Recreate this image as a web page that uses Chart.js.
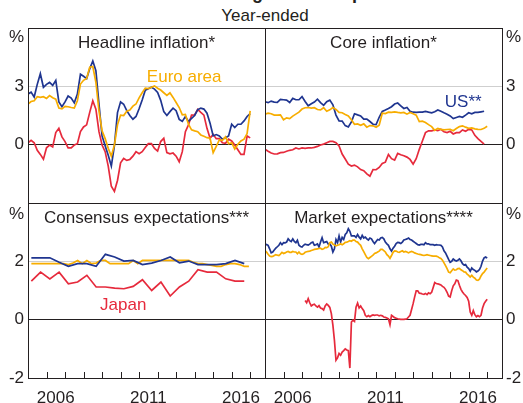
<!DOCTYPE html>
<html>
<head>
<meta charset="utf-8">
<script src="https://cdn.jsdelivr.net/npm/chart.js@4/dist/chart.umd.min.js"></script>
<style>
  html, body { margin: 0; padding: 0; background: #fff; }
  body { width: 523px; height: 403px; position: relative; overflow: hidden;
         font-family: "Liberation Sans", Arial, sans-serif; color: #231f20; }
  canvas { position: absolute; left: 0; top: 0; }
  .txt { position: absolute; white-space: nowrap; }
</style>
</head>
<body>
<div class="txt" style="left:107px;top:-16px;font-weight:bold;font-size:18px;line-height:18px;">Inflation and Longer-term Expectations</div>
<div class="txt" style="left:165px;width:200px;text-align:center;top:7px;font-size:17px;line-height:17px;">Year-ended</div>
<canvas id="headline" width="523" height="403"></canvas>
<canvas id="core" width="523" height="403"></canvas>
<canvas id="consensus" width="523" height="403"></canvas>
<canvas id="market" width="523" height="403"></canvas>
<script>
// ─── Data ─────────────────────────────────────────────────────────────────────

// Headline / core inflation, every second month from Jan 2005 (%)
const inflationStart = 2005;
const usHeadline = [
  2.60, 2.70, 2.45, 3.10, 3.65, 2.95, 3.10, 3.20, 3.05, 3.30,
  2.20, 1.95, 2.20, 2.50, 2.40, 2.15, 2.60, 3.62, 3.52, 3.40,
  3.90, 4.30, 3.80, 2.09, 0.45, -0.05, -0.55, -1.10, -0.05, 1.65,
  2.20, 2.08, 1.75, 1.50, 1.31, 1.45, 1.85, 2.30, 2.80, 2.88,
  2.95, 2.86, 2.69, 2.28, 1.70, 1.50, 1.70, 1.88, 1.75, 1.30,
  1.20, 1.45, 1.20, 1.35, 1.50, 1.80, 1.88, 1.83, 1.62, 1.10,
  0.45, 0.52, 0.45, 0.28, 0.36, 0.45, 1.05, 0.88, 1.05, 1.05,
  1.22, 1.45, 1.60
];
const euroHeadline = [
  2.09, 2.22, 2.26, 2.47, 2.43, 2.47, 2.38, 2.52, 2.41, 2.34,
  1.88, 1.84, 1.97, 1.95, 1.91, 1.88, 2.26, 3.12, 3.31, 3.41,
  3.98, 4.02, 3.21, 1.74, 0.71, 0.31, -0.19, -0.59, -0.02, 1.02,
  1.52, 1.50, 1.72, 1.78, 1.98, 2.09, 2.41, 2.67, 2.91, 2.88,
  2.95, 3.02, 2.90, 2.81, 2.67, 2.53, 2.67, 2.43, 2.17, 1.91,
  1.53, 1.55, 1.05, 0.76, 0.71, 0.67, 0.50, 0.43, 0.36, 0.33,
  -0.41, -0.09, 0.24, 0.22, 0.40, 0.05, 0.10, -0.22, 0.02, 0.19,
  0.28, 0.57, 1.74
];
const japanHeadline = [
  0.10, 0.22, 0.10, -0.29, -0.50, -0.75, -0.16, -0.02, -0.12, 0.62,
  0.84, 0.40, 0.16, -0.16, -0.16, -0.02, 0.05, 0.67, 0.91, 1.02,
  1.66, 2.26, 1.83, 0.67, -0.02, -0.36, -1.10, -2.14, -2.40, -1.84,
  -0.93, -0.71, -0.81, -0.76, -0.59, -0.36, -0.47, -0.36, -0.15, 0.05,
  0.05, -0.19, -0.33, 0.16, 0.33, -0.41, -0.47, -0.43, -0.59, -0.88,
  -0.36, 0.67, 1.02, 1.52, 1.53, 1.81, 1.66, 1.52, 0.84, 0.33,
  0.53, 0.31, 0.31, 0.10, 0.07, 0.28, 0.19, -0.02, -0.26, -0.50,
  -0.50, 0.45, 0.35
];
const usCore = [
  2.21, 2.16, 2.24, 2.19, 2.17, 2.33, 2.31, 2.29, 2.17, 2.38,
  2.31, 2.31, 2.47, 2.22, 2.00, 2.10, 2.19, 2.34, 2.16, 2.02,
  2.21, 2.29, 2.05, 1.52, 1.22, 1.21, 0.98, 0.91, 1.17, 1.59,
  1.53, 1.48, 1.31, 1.31, 1.19, 1.05, 1.03, 1.41, 1.71, 1.78,
  1.86, 1.95, 2.09, 2.14, 2.00, 1.86, 1.91, 1.72, 1.67, 1.66,
  1.67, 1.67, 1.71, 1.67, 1.64, 1.69, 1.78, 1.72, 1.64, 1.57,
  1.48, 1.34, 1.40, 1.45, 1.41, 1.52, 1.64, 1.59, 1.66, 1.66,
  1.69, 1.72
];
const euroCore = [
  1.57, 1.62, 1.59, 1.52, 1.52, 1.53, 1.28, 1.38, 1.34, 1.47,
  1.57, 1.67, 1.83, 1.90, 1.91, 1.88, 1.90, 1.81, 1.79, 1.90,
  1.72, 1.79, 1.91, 1.81, 1.66, 1.64, 1.55, 1.48, 1.28, 1.05,
  1.07, 1.00, 1.07, 0.90, 0.98, 0.97, 0.90, 1.00, 1.62, 1.60,
  1.67, 1.66, 1.69, 1.66, 1.64, 1.66, 1.57, 1.66, 1.59, 1.52,
  1.19, 1.21, 1.14, 1.03, 0.93, 0.74, 0.84, 0.79, 0.76, 0.78,
  0.79, 0.72, 0.83, 0.93, 0.97, 0.90, 0.84, 0.86, 0.81, 0.79,
  0.78, 0.84, 0.95
];
const japanCore = [
  -0.24, -0.34, -0.43, -0.48, -0.47, -0.41, -0.40, -0.34, -0.29, -0.26,
  -0.17, -0.22, -0.17, -0.19, -0.17, -0.17, -0.14, -0.09, -0.02, 0.03,
  0.10, 0.17, 0.17, 0.10, -0.07, -0.48, -0.74, -1.00, -1.10, -1.05,
  -1.14, -1.28, -1.34, -1.50, -1.62, -1.28, -1.29, -1.17, -0.97, -0.90,
  -0.50, -0.72, -0.79, -0.45, -0.52, -0.57, -0.64, -0.76, -1.00, -0.72,
  -0.24, 0.19, 0.62, 0.71, 0.71, 0.76, 0.72, 0.79, 0.66, 0.62,
  0.69, 0.55, 0.62, 0.62, 0.76, 0.69, 0.79, 0.76, 0.48, 0.31,
  0.17, 0.03
];

// Consensus long-term expectations: US and Japan half-yearly, euro area quarterly
const consensusStart = 2005.18;
const usConsensus = [
  2.12, 2.12, 2.12, 1.97, 1.83, 1.92, 1.92, 1.83, 2.24, 2.15, 2.01, 2.03,
  1.89, 1.94, 2.03, 2.15, 1.95, 2.01, 1.89, 1.89, 1.89, 1.92, 2.03, 1.92
];
const japanConsensus = [
  1.32, 1.63, 1.40, 1.63, 1.23, 1.29, 1.52, 1.12, 1.12, 1.08, 1.06, 1.14,
  1.37, 1.00, 1.29, 0.81, 1.12, 1.32, 1.71, 1.63, 1.63, 1.40, 1.32, 1.32
];
const euroConsensus = [
  1.92, 1.92, 1.92, 1.92, 1.92, 1.92, 1.92, 1.92, 1.89, 1.94, 2.03, 1.92,
  2.03, 1.92, 1.94, 2.03, 2.03, 1.92, 1.92, 1.92, 1.92, 1.92, 2.03, 1.92,
  2.03, 2.03, 2.03, 2.03, 2.03, 2.03, 2.03, 2.03, 2.03, 2.03, 2.03, 1.97,
  1.92, 1.92, 1.89, 1.86, 1.83, 1.83, 1.89, 1.92, 1.92, 1.89, 1.83, 1.83
];

// Market-implied expectations, monthly from Jan 2005 (Japan from Mar 2007)
const marketStart = 2005;
const japanMarketStart = 2007 + 2 / 12;
const usMarket = [
  2.55, 2.58, 2.55, 2.43, 2.29, 2.32, 2.39, 2.45, 2.50, 2.55,
  2.64, 2.57, 2.64, 2.63, 2.66, 2.77, 2.71, 2.68, 2.77, 2.68,
  2.64, 2.72, 2.55, 2.51, 2.49, 2.55, 2.59, 2.57, 2.56, 2.59,
  2.64, 2.66, 2.55, 2.57, 2.60, 2.49, 2.66, 2.81, 2.64, 2.66,
  2.68, 2.59, 2.60, 2.52, 2.32, 2.43, 2.75, 2.64, 2.87, 2.66,
  2.82, 2.75, 2.92, 2.98, 3.12, 3.03, 2.87, 2.87, 2.87, 2.82,
  2.92, 2.83, 2.77, 2.89, 2.80, 2.83, 2.77, 2.73, 2.80, 2.77,
  2.68, 2.61, 2.68, 2.75, 2.73, 2.80, 2.82, 2.77, 2.66, 2.60,
  2.55, 2.43, 2.35, 2.45, 2.52, 2.61, 2.65, 2.64, 2.61, 2.66,
  2.73, 2.75, 2.77, 2.80, 2.75, 2.73, 2.69, 2.65, 2.61, 2.57,
  2.56, 2.58, 2.58, 2.57, 2.64, 2.60, 2.60, 2.57, 2.57, 2.57,
  2.55, 2.57, 2.56, 2.56, 2.55, 2.49, 2.36, 2.29, 2.18, 2.07,
  1.97, 2.00, 2.08, 2.04, 2.01, 2.04, 2.08, 2.02, 1.92, 1.87,
  1.89, 1.80, 1.75, 1.66, 1.77, 1.72, 1.69, 1.64, 1.67, 1.72,
  1.83, 2.01, 2.12, 2.15, 2.11
];
const euroMarket = [
  2.37, 2.32, 2.24, 2.18, 2.16, 2.17, 2.20, 2.23, 2.21, 2.20,
  2.25, 2.31, 2.27, 2.29, 2.32, 2.34, 2.31, 2.31, 2.34, 2.32,
  2.32, 2.26, 2.32, 2.26, 2.24, 2.26, 2.31, 2.33, 2.34, 2.35,
  2.37, 2.39, 2.41, 2.42, 2.43, 2.44, 2.45, 2.41, 2.43, 2.48,
  2.47, 2.50, 2.64, 2.66, 2.59, 2.56, 2.53, 2.55, 2.57, 2.60,
  2.57, 2.60, 2.65, 2.66, 2.68, 2.71, 2.69, 2.73, 2.73, 2.68,
  2.66, 2.60, 2.55, 2.43, 2.33, 2.23, 2.13, 2.09, 2.13, 2.17,
  2.21, 2.27, 2.29, 2.32, 2.35, 2.41, 2.41, 2.37, 2.32, 2.23,
  2.18, 2.10, 2.20, 2.31, 2.36, 2.35, 2.32, 2.31, 2.34, 2.36,
  2.32, 2.34, 2.32, 2.29, 2.32, 2.34, 2.32, 2.29, 2.27, 2.25,
  2.24, 2.23, 2.21, 2.20, 2.21, 2.23, 2.21, 2.20, 2.19, 2.18,
  2.18, 2.18, 2.16, 2.12, 2.10, 2.04, 1.95, 1.85, 1.75, 1.63,
  1.61, 1.68, 1.74, 1.70, 1.71, 1.75, 1.76, 1.71, 1.68, 1.64,
  1.63, 1.56, 1.52, 1.46, 1.52, 1.46, 1.42, 1.36, 1.35, 1.39,
  1.50, 1.58, 1.63, 1.70, 1.77
];
const japanMarket = [
  0.66, 0.58, 0.72, 0.58, 0.47, 0.51, 0.53, 0.47, 0.43, 0.48,
  0.40, 0.38, 0.33, 0.47, 0.54, 0.49, 0.42, 0.21, -0.19, -0.71,
  -1.39, -1.31, -1.16, -1.22, -1.11, -1.06, -1.00, -1.04, -1.06, -1.66,
  -0.08, -0.02, -0.06, 0.43, 0.57, 0.40, 0.47, 0.38, 0.31, 0.15,
  0.10, 0.14, 0.10, 0.14, 0.16, 0.15, 0.16, 0.16, 0.13, 0.15,
  0.13, 0.09, 0.08, 0.06, 0.03, -0.17, 0.15, 0.11, 0.07, 0.05,
  0.03, 0.02, 0.01, 0.01, 0.01, 0.02, 0.03, 0.09, 0.15, 0.35,
  0.55, 0.78, 0.99, 0.99, 0.91, 0.90, 0.88, 0.87, 0.90, 0.86,
  0.92, 0.89, 0.94, 1.10, 1.27, 1.24, 1.23, 1.21, 1.19, 1.14,
  1.11, 1.04, 0.94, 0.81, 0.78, 0.99, 1.16, 1.23, 1.36, 1.34,
  1.18, 1.04, 0.95, 0.88, 0.83, 0.76, 0.63, 0.26, 0.15, 0.31,
  0.17, 0.10, 0.14, 0.10, 0.15, 0.40, 0.55, 0.63, 0.70
];

// Axes
const xMin = 2005;
const xMax = 2017.8;
const yearLabels = [2006, 2011, 2016];
const topTicks = [-3, 0, 3, 6];
const bottomTicks = [-2, 0, 2, 4];

// ─── Style ────────────────────────────────────────────────────────────────────

const FONT = '"Liberation Sans", Arial, sans-serif';
const TEXT = '#231f20';
const BLUE = '#1f3590';
const ORANGE = '#f7ad00';
const RED = '#e62a3c';
const GRID = '#cfcfcf';

const W = 523, H = 403;
const X_LEFT = 28, X_MID = 265, X_RIGHT = 502;
const Y_TOP = 28, Y_MID = 203, Y_BOTTOM = 378;

const BIMONTH = 1 / 6, MONTH = 1 / 12, HALF = 0.5, QUARTER = 0.25;

function pts(start, step, values) {
  return values.map((v, i) => ({ x: start + i * step, y: v }));
}

function line(data, color) {
  return { data, borderColor: color, borderWidth: 1.7, pointRadius: 0, tension: 0, fill: false };
}

// frame, tick marks, "%", panel title and series labels
const decor = {
  id: 'decor',
  afterDraw(chart, args, o) {
    const { ctx, chartArea: a, scales } = chart;
    ctx.save();
    ctx.strokeStyle = TEXT;
    ctx.lineWidth = 1;
    ctx.strokeRect(Math.round(a.left) + 0.5, Math.round(a.top) + 0.5,
      Math.round(a.right - a.left), Math.round(a.bottom - a.top));

    if (o.bottom) {
      ctx.beginPath();
      for (let yr = 2006; yr <= 2017; yr++) {
        const px = Math.round(scales.x.getPixelForValue(yr)) + 0.5;
        ctx.moveTo(px, a.bottom);
        ctx.lineTo(px, a.bottom - 6);
      }
      ctx.stroke();
    }

    ctx.fillStyle = TEXT;
    ctx.font = '17px ' + FONT;
    ctx.textBaseline = 'alphabetic';
    const pctY = a.top + (o.bottom ? 15.5 : 14);
    if (o.side === 'left') {
      ctx.textAlign = 'right';
      ctx.fillText('%', a.left - 4, pctY);
    } else {
      ctx.textAlign = 'left';
      ctx.fillText('%', a.right + 4, pctY);
    }

    ctx.textAlign = 'center';
    ctx.fillText(o.title, (a.left + a.right) / 2, a.top + 20);

    ctx.textAlign = 'left';
    (o.labels || []).forEach(l => {
      ctx.fillStyle = l.color;
      ctx.fillText(l.text, scales.x.getPixelForValue(l.x), scales.y.getPixelForValue(l.y));
    });
    ctx.restore();
  },
};

function makePanel(id, opts) {
  const left = opts.side === 'left';
  const ticks = opts.bottom ? bottomTicks : topTicks;
  const yMin = ticks[0], yMax = ticks[ticks.length - 1];
  const midLine = opts.bottom ? 2 : 3;

  new Chart(document.getElementById(id), {
    type: 'line',
    data: { datasets: opts.datasets },
    options: {
      animation: false,
      responsive: false,
      events: [],
      layout: {
        padding: {
          left: left ? 0 : X_MID,
          right: left ? W - X_MID : 0,
          top: opts.bottom ? Y_MID : Y_TOP,
          bottom: opts.bottom ? 0 : H - Y_MID,
        },
      },
      plugins: {
        legend: { display: false },
        tooltip: { enabled: false },
        decor: opts,
      },
      scales: {
        x: {
          type: 'linear',
          min: xMin,
          max: xMax,
          display: !!opts.bottom,
          grid: { display: false },
          border: { display: false },
          afterBuildTicks: s => {
            s.ticks = [];
            for (let yr = 2005; yr <= 2017; yr++) s.ticks.push({ value: yr + 0.5 });
          },
          afterFit: s => { s.height = opts.bottom ? H - Y_BOTTOM : 0; },
          ticks: {
            autoSkip: false,
            maxRotation: 0,
            minRotation: 0,
            padding: 2,
            color: TEXT,
            font: { family: FONT, size: 17 },
            callback: v => (yearLabels.includes(Math.floor(v)) ? String(Math.floor(v)) : ''),
          },
        },
        y: {
          position: left ? 'left' : 'right',
          min: yMin,
          max: yMax,
          afterBuildTicks: s => { s.ticks = ticks.map(v => ({ value: v })); },
          afterFit: s => { s.width = left ? X_LEFT : W - X_RIGHT; },
          border: { display: false },
          grid: {
            drawTicks: false,
            lineWidth: 1,
            color: c => (c.tick.value === 0 ? TEXT : c.tick.value === midLine ? GRID : 'rgba(0,0,0,0)'),
          },
          ticks: {
            padding: 4,
            color: TEXT,
            font: { family: FONT, size: 17 },
            callback: v => (v === yMax || (!opts.bottom && v === yMin) ? '' : String(v)),
          },
        },
      },
    },
    plugins: [decor],
  });
}

makePanel('headline', {
  side: 'left',
  title: 'Headline inflation*',
  labels: [{ text: 'Euro area', x: 2011.42, y: 3.24, color: ORANGE }],
  datasets: [
    line(pts(inflationStart, BIMONTH, euroHeadline), ORANGE),
    line(pts(inflationStart, BIMONTH, usHeadline), BLUE),
    line(pts(inflationStart, BIMONTH, japanHeadline), RED),
  ],
});

makePanel('core', {
  side: 'right',
  title: 'Core inflation*',
  labels: [{ text: 'US**', x: 2014.71, y: 1.94, color: BLUE }],
  datasets: [
    line(pts(inflationStart, BIMONTH, euroCore), ORANGE),
    line(pts(inflationStart, BIMONTH, usCore), BLUE),
    line(pts(inflationStart, BIMONTH, japanCore), RED),
  ],
});

makePanel('consensus', {
  side: 'left',
  bottom: true,
  title: 'Consensus expectations***',
  labels: [{ text: 'Japan', x: 2008.89, y: 0.33, color: RED }],
  datasets: [
    line(pts(consensusStart, HALF, usConsensus), BLUE),
    line(pts(consensusStart, QUARTER, euroConsensus), ORANGE),
    line(pts(consensusStart, HALF, japanConsensus), RED),
  ],
});

makePanel('market', {
  side: 'right',
  bottom: true,
  title: 'Market expectations****',
  datasets: [
    line(pts(marketStart, MONTH, euroMarket), ORANGE),
    line(pts(marketStart, MONTH, usMarket), BLUE),
    line(pts(japanMarketStart, MONTH, japanMarket), RED),
  ],
});
</script>
</body>
</html>
